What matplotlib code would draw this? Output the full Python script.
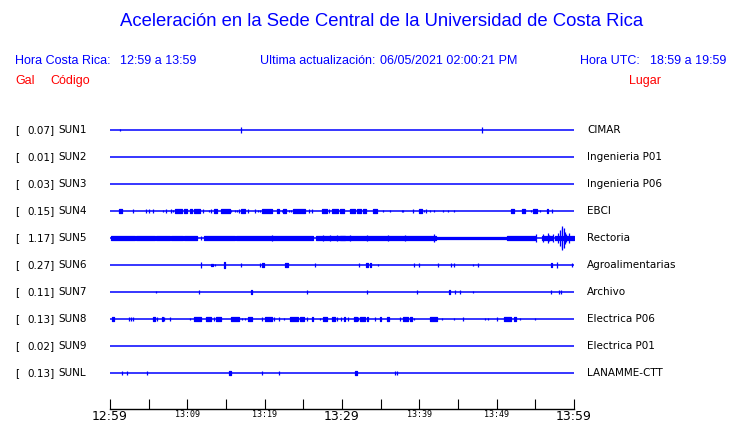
import matplotlib.pyplot as plt

# --- figure layout helpers (pixels of a 740x423 canvas) ---
W, H = 740, 423


def fx(px):
    return px / W


def fy(py):
    return 1 - py / H


# --- data ---
title = "Aceleración en la Sede Central de la Universidad de Costa Rica"
hora_cr = "12:59 a 13:59"
hora_utc = "18:59 a 19:59"
actualizacion = "06/05/2021 02:00:21 PM"

codes = ["SUN1", "SUN2", "SUN3", "SUN4", "SUN5", "SUN6", "SUN7", "SUN8", "SUN9", "SUNL"]
peaks = [0.07, 0.01, 0.03, 0.15, 1.17, 0.27, 0.11, 0.13, 0.02, 0.13]
places = ["CIMAR", "Ingenieria P01", "Ingenieria P06", "EBCI", "Rectoria",
          "Agroalimentarias", "Archivo", "Electrica P06", "Electrica P01", "LANAMME-CTT"]

# minutes after 12:59 for the time axis
tick_minutes = list(range(0, 61, 5))
tick_labels = ["12:59", "", "13:09", "", "13:19", "", "13:29", "", "13:39", "", "13:49", "", "13:59"]
big_labels = ["12:59", "13:29", "13:59"]

# bursts per station: (start minute, end minute, half amplitude in trace units)
sun1 = [(1.3, 1.3, 0.04), (16.9, 16.9, 0.11), (48.1, 48.1, 0.11)]
sun2 = []
sun3 = []
sun4 = [(1.2, 1.6, .07), (3.0, 3.0, .07), (4.6, 4.6, .06), (5.1, 5.1, .07), (5.6, 5.6, .07),
        (6.8, 6.8, .05), (7.2, 7.2, .07), (7.9, 7.9, .06), (8.2, 8.2, .05), (8.4, 9.3, .07),
        (9.6, 10.0, .07), (10.3, 10.6, .07), (10.8, 11.6, .07), (12.0, 12.0, .07), (12.8, 12.8, .05),
        (13.1, 13.1, .07), (13.4, 13.9, .07), (14.4, 15.5, .07), (15.6, 15.6, .05), (16.1, 16.1, .05),
        (16.4, 16.4, .05), (16.7, 16.7, .07), (17.0, 17.5, .07), (17.8, 17.8, .07), (18.8, 18.8, .07),
        (19.1, 19.1, .05), (19.4, 19.4, .05), (19.6, 21.0, .07), (21.6, 21.9, .07), (22.2, 22.2, .05),
        (22.4, 22.8, .07), (23.1, 23.1, .05), (23.4, 23.4, .05), (23.7, 25.2, .07), (25.7, 25.7, .07),
        (26.1, 26.1, .07), (27.4, 28.0, .07), (28.3, 28.3, .07), (28.7, 29.5, .07), (29.7, 30.2, .07),
        (31.0, 31.7, .07), (32.0, 32.4, .07), (32.7, 33.1, .07), (34.0, 34.5, .07), (35.3, 35.3, .05),
        (36.2, 36.2, .05), (37.7, 37.7, .05), (37.9, 37.9, .05), (39.2, 39.2, .07), (40.0, 40.4, .07),
        (40.6, 40.6, .05), (40.9, 40.9, .07), (41.4, 41.4, .05), (41.9, 41.9, .05), (43.0, 43.0, .05),
        (43.7, 43.7, .05), (44.5, 44.5, .05), (51.9, 52.2, .07), (53.3, 53.7, .07), (54.4, 54.4, .05),
        (54.7, 55.2, .07), (55.6, 55.6, .05), (56.5, 56.7, .07), (57.1, 57.1, .07)]
sun5 = [(0.1, 3.2, .07), (3.4, 5.8, .07), (6.0, 7.8, .07), (7.9, 9.5, .07), (9.6, 11.2, .07),
        (11.8, 11.8, .06), (12.2, 16.2, .07), (16.3, 20.9, .07), (21.0, 21.0, .11), (20.9, 26.3, .07),
        (26.6, 30.4, .07), (27.6, 27.6, .11), (28.4, 28.4, .11), (29.3, 29.3, .11),
        (29.7, 42.2, .07), (31.0, 31.0, .11), (33.2, 33.2, .11), (36.0, 36.0, .11), (38.1, 38.1, .11),
        (41.9, 41.9, .13), (42.2, 51.3, .055), (51.3, 55.0, .07), (55.1, 55.1, .15),
        (55.8, 57.3, .07), (56.0, 56.0, .15), (56.6, 56.6, .19), (56.8, 56.8, .11), (57.3, 57.3, .15),
        (57.5, 60.0, .07), (57.9, 57.9, .19), (58.2, 58.2, .30), (58.4, 58.4, .37), (58.5, 58.5, .44),
        (58.7, 58.7, .37), (58.8, 58.8, .22), (59.0, 59.0, .15), (59.4, 59.4, .17)]
sun6 = [(11.8, 11.8, .10), (13.1, 13.3, .05), (13.6, 13.6, .04), (14.8, 14.9, .12), (17.0, 17.0, .06),
        (19.4, 19.4, .06), (19.7, 19.9, .07), (22.6, 23.0, .07), (26.5, 26.5, .07), (32.2, 32.2, .06),
        (33.1, 33.4, .07), (33.6, 33.8, .07), (34.7, 34.7, .04), (39.3, 39.3, .06), (39.9, 39.9, .06),
        (42.4, 42.4, .07), (44.1, 44.1, .06), (44.5, 44.5, .06), (47.0, 47.0, .04), (47.6, 47.6, .06),
        (57.0, 57.2, .07), (57.8, 57.8, .11), (59.8, 59.8, .07)]
sun7 = [(5.9, 5.9, .04), (11.5, 11.5, .06), (18.2, 18.3, .06), (25.5, 25.5, .06), (33.2, 33.2, .06),
        (39.7, 39.7, .06), (43.8, 44.0, .07), (44.6, 44.6, .06), (45.2, 45.2, .06), (47.0, 47.0, .04),
        (57.0, 57.0, .06), (58.1, 58.1, .06), (58.3, 58.3, .06)]
sun8 = [(0.2, 0.5, .07), (2.5, 2.5, .06), (2.7, 2.7, .06), (3.0, 3.0, .06), (5.6, 5.8, .07),
        (6.1, 6.1, .07), (6.7, 6.8, .07), (7.0, 7.0, .07), (7.8, 7.8, .07), (10.4, 10.4, .04),
        (10.9, 11.8, .07), (12.4, 13.1, .07), (13.4, 13.4, .07), (13.7, 14.4, .07), (15.7, 16.7, .07),
        (17.1, 17.1, .05), (17.5, 17.5, .05), (17.8, 18.3, .07), (19.6, 19.6, .06), (20.0, 20.9, .07),
        (21.2, 21.2, .07), (21.8, 21.8, .07), (22.5, 22.5, .04), (23.3, 24.3, .07), (24.6, 25.1, .07),
        (25.5, 25.5, .07), (26.1, 26.3, .07), (27.1, 27.1, .04), (27.5, 28.0, .07), (28.7, 29.1, .07),
        (29.4, 29.4, .07), (29.9, 29.9, .07), (30.2, 30.4, .07), (30.8, 30.8, .07), (31.6, 31.9, .07),
        (32.1, 32.1, .07), (32.3, 33.0, .07), (33.2, 33.4, .07), (34.3, 34.3, .07), (34.9, 35.1, .07),
        (35.8, 36.1, .07), (37.5, 37.5, .07), (37.9, 38.5, .07), (38.8, 39.0, .07), (39.3, 39.3, .05),
        (41.4, 42.3, .07), (42.9, 42.9, .04), (44.5, 44.5, .04), (45.6, 45.6, .07), (48.5, 48.5, .05),
        (48.9, 48.9, .05), (50.1, 50.1, .07), (50.9, 51.8, .07), (52.2, 52.5, .07), (53.0, 53.0, .04),
        (55.0, 55.0, .04)]
sun9 = []
sunl = [(1.6, 1.6, .06), (2.2, 2.2, .06), (4.8, 4.8, .06), (15.4, 15.6, .07), (19.6, 19.6, .06),
        (21.9, 21.9, .06), (31.7, 31.9, .07), (36.9, 36.9, .06), (37.1, 37.1, .06)]
bursts = [sun1, sun2, sun3, sun4, sun5, sun6, sun7, sun8, sun9, sunl]

BLUE = "#0000ff"
RED = "#ff0000"

fig = plt.figure(figsize=(W / 100, H / 100), dpi=100)

# --- header texts ---
hdr = dict(family="Liberation Sans", fontsize=9, va="center")
fig.text(fx(382), fy(22), title, color=BLUE, ha="center", va="center",
         family="Liberation Sans", fontsize=13.3)
fig.text(fx(15), fy(61), "Hora Costa Rica:", color=BLUE, **hdr)
fig.text(fx(120), fy(61), hora_cr, color=BLUE, **hdr)
fig.text(fx(260), fy(61), "Ultima actualización:", color=BLUE, **hdr)
fig.text(fx(380), fy(61), actualizacion, color=BLUE, **hdr)
fig.text(fx(580), fy(61), "Hora UTC:", color=BLUE, **hdr)
fig.text(fx(650), fy(61), hora_utc, color=BLUE, **hdr)
fig.text(fx(15), fy(81), "Gal", color=RED, **hdr)
fig.text(fx(50), fy(81), "Código", color=RED, **hdr)
fig.text(fx(629), fy(81), "Lugar", color=RED, **hdr)

# --- trace axes: x from 110px to 574px, bottom spine at 409px ---
ax = fig.add_axes([fx(110), fy(409), (574 - 110) / W, (409 - 103) / H])
ax.set_xlim(0, 60)
ax.set_ylim(10.333, -1)

for i, (code, peak, place, bl) in enumerate(zip(codes, peaks, places, bursts)):
    ax.hlines(i, 0, 60, color=BLUE, lw=1.1)
    for t0, t1, a in bl:
        ax.fill_between([t0, t1], [i - a, i - a], [i + a, i + a],
                        color=BLUE, lw=0.9, edgecolor=BLUE)
    ty = fy(130 + 27 * i)
    lab = dict(fontsize=7.5, va="center", color="black")
    fig.text(fx(15), ty, "[", ha="left", **lab)
    fig.text(fx(55), ty, f"{peak:.2f}]", ha="right", **lab)
    fig.text(fx(58), ty, code, ha="left", **lab)
    fig.text(fx(587), ty, place, ha="left", **lab)

for s in ["top", "left", "right"]:
    ax.spines[s].set_visible(False)
ax.spines["bottom"].set_linewidth(1.0)
ax.set_yticks([])
ax.set_xticks(tick_minutes)
ax.set_xticklabels(tick_labels)
ax.tick_params(axis="x", direction="in", length=7.2, width=0.8, pad=0.5)
for t in ax.get_xticklabels():
    if t.get_text() in big_labels:
        t.set_fontsize(9)
        t.set_family("DejaVu Sans")
    else:
        t.set_fontsize(6)
        t.set_family("DejaVu Sans Mono")

fig.savefig("out.png", dpi=100)
